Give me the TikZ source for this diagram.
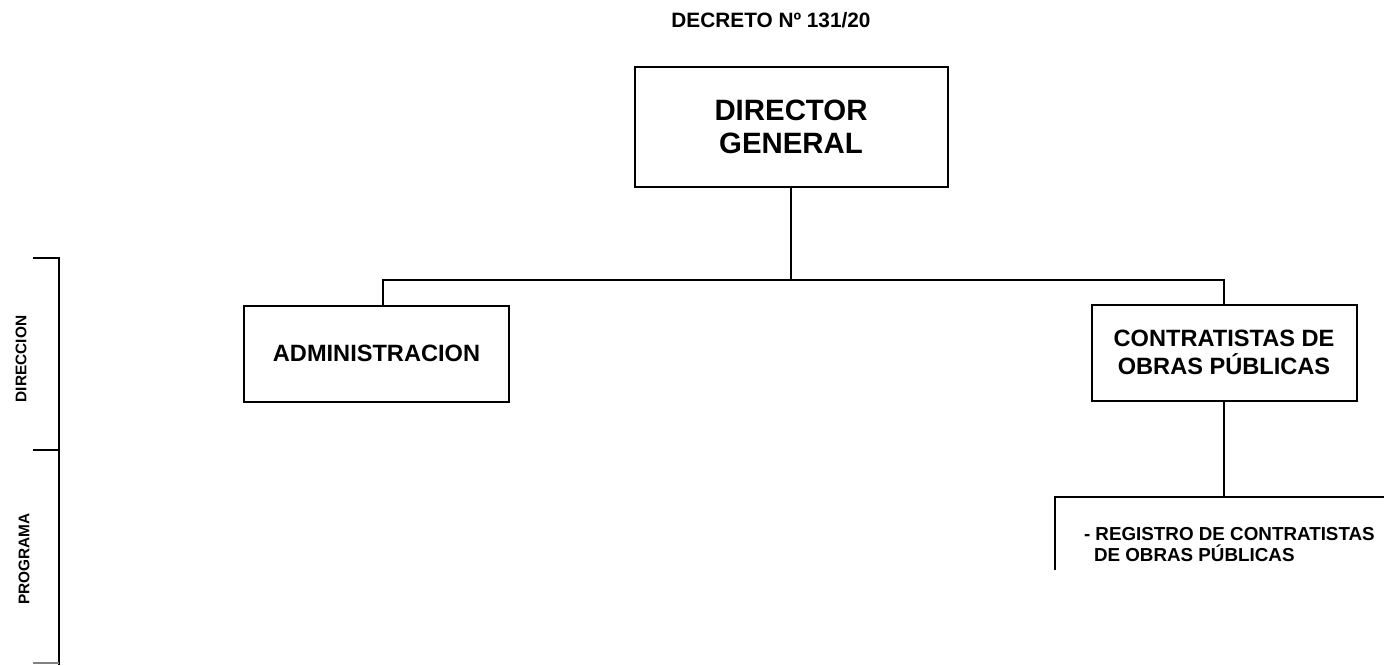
\documentclass[tikz,border=0pt]{standalone}
\usepackage{fontspec}
\setmainfont{Liberation Sans}
\begin{document}
\begin{tikzpicture}
    [
    x=0.5pt,y=-0.5pt,line width=1pt,
    font=\bfseries,
    unit/.style={rectangle,draw,inner sep=0pt,align=center,minimum width=132.5pt,minimum height=48pt,font=\bfseries\fontsize{11.8}{14}\selectfont},
    level/.style={rotate=90,font=\bfseries\fontsize{7.7}{10}\selectfont}
    ]
    \useasboundingbox (0,0) rectangle (1384,665);
    \node (0) at (771,20.5) [font=\bfseries\fontsize{10.4}{12}\selectfont] {DECRETO Nº 131/20};
    \node (1) at (791,126.5) [unit,minimum width=156.5pt,minimum height=60pt,font=\bfseries\fontsize{14.7}{16.5}\selectfont] {DIRECTOR\\GENERAL};
    \node (2) at (376.5,353.5) [unit] {ADMINISTRACION};
    \node (3) at (1224,352.5) [unit] {CONTRATISTAS DE\\OBRAS PÚBLICAS};
    \node (4) at (1083,526) [anchor=north west,inner sep=0pt,align=left,font=\bfseries\fontsize{9.4}{10.5}\selectfont] {- REGISTRO DE CONTRATISTAS\\\hspace*{5pt}DE OBRAS PÚBLICAS};
    \coordinate (a) at (383,280);
    \coordinate (b) at (1224,280);
    \coordinate (c) at (1055,497);
    \coordinate (d) at (1390,497);
    \coordinate (e) at (1055,570);
    \draw (1.south) to (1.south |- a);
    \draw (a |- 2.north) to (a) to (b) to (3.north);
    \draw (3.south) to (3.south |- c);
    \draw (d) to (c) to (e);
    % levels
    \node (5) at (21,359) [level] {DIRECCION};
    \node (6) at (24,559) [level] {PROGRAMA};
    \draw (33,258) -- (59,258) -- (59,665);
    \draw (33,450) -- (59,450);
    \draw[gray] (33,663) -- (59,663);
\end{tikzpicture}
\end{document}
